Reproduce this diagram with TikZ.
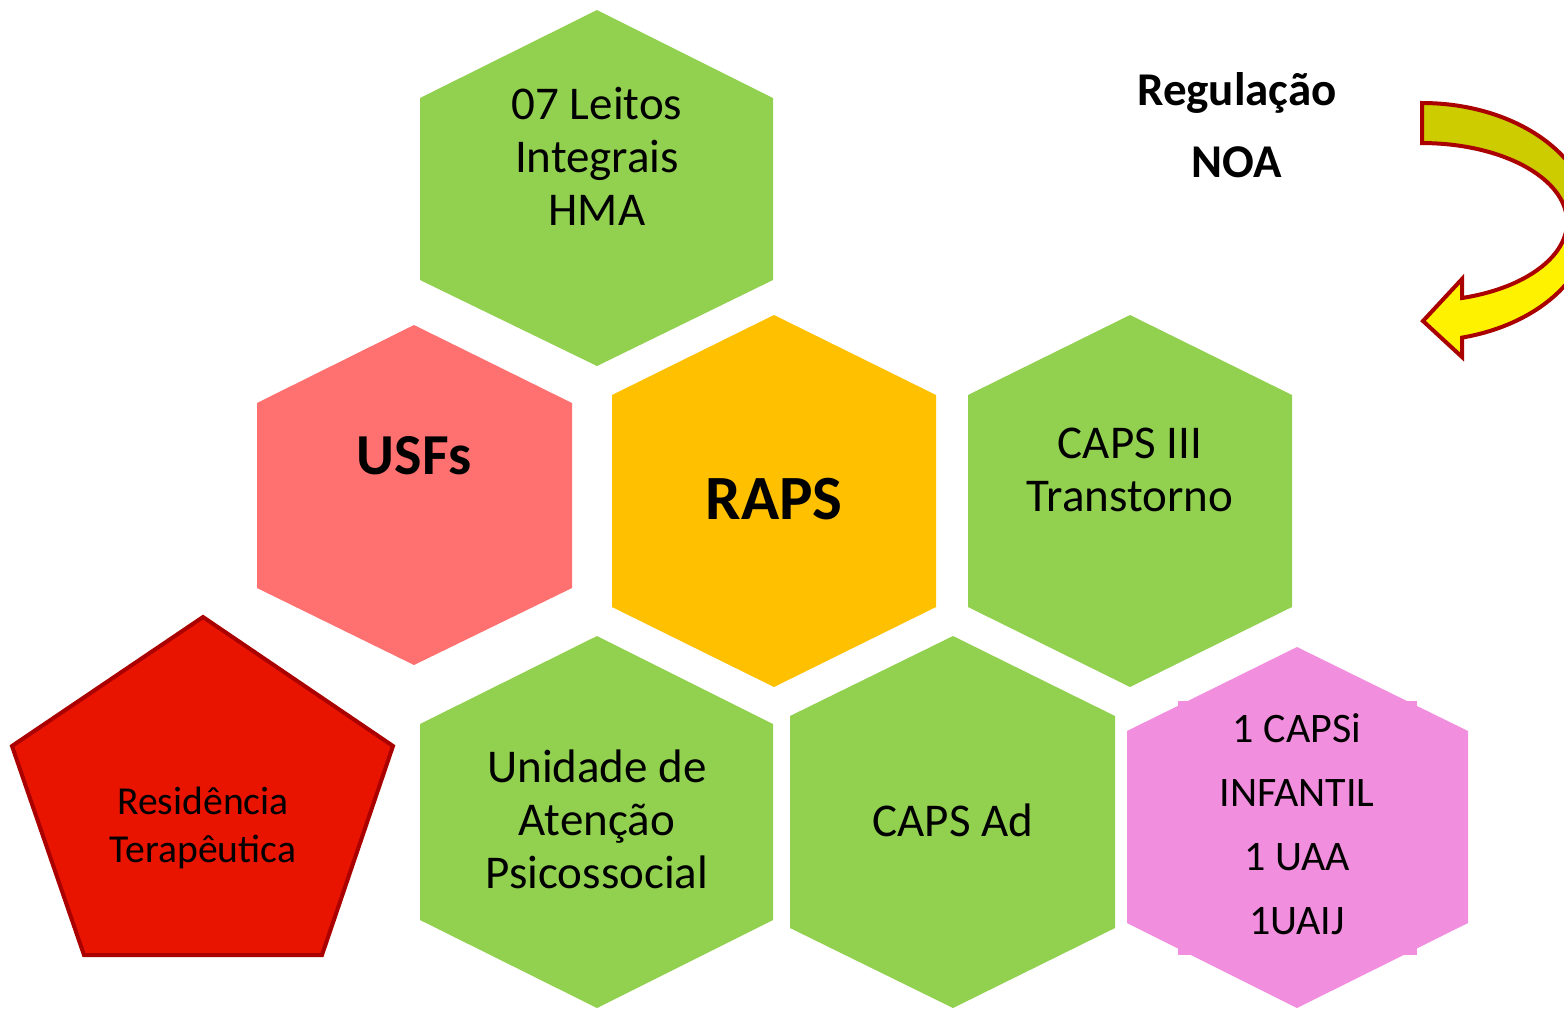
\documentclass[tikz,border=0pt]{standalone}
\usepackage{fontspec}
\setmainfont{Carlito}
\definecolor{hexgreen}{HTML}{92D050}
\definecolor{hexsalmon}{HTML}{FF7070}
\definecolor{hexorange}{HTML}{FFC000}
\definecolor{hexpink}{HTML}{F28EDE}
\definecolor{pentred}{HTML}{E81400}
\definecolor{darkred}{HTML}{AA0000}
\definecolor{olive}{HTML}{CCCC00}

\begin{document}
\begin{tikzpicture}[x=0.5pt,y=-0.5pt,
  txt/.style={align=center,inner sep=0pt,font=\fontsize{23.5}{26.5}\selectfont},
  pinktxt/.style={align=center,inner sep=0pt,font=\fontsize{21}{32}\selectfont},
  boldtxt/.style={inner sep=0pt,font=\bfseries\fontsize{23.5}{28}\selectfont}]
\useasboundingbox (0,0) rectangle (1564,1008);
\clip (0,0) rectangle (1564,1008);
% hexagons
\fill[hexgreen] (597,10) -- (773,98) -- (773,280) -- (597,366) -- (420,280) -- (420,98) -- cycle;
\fill[hexsalmon] (414,325) -- (572,403) -- (572,588) -- (414,665) -- (257,588) -- (257,403) -- cycle;
\fill[hexorange] (774,315) -- (936,395) -- (936,607) -- (774,687) -- (612,607) -- (612,395) -- cycle;
\fill[hexgreen] (1130,315) -- (1292,395) -- (1292,607) -- (1130,687) -- (968,607) -- (968,395) -- cycle;
\fill[hexgreen] (597,636) -- (773,724) -- (773,920) -- (597,1008) -- (420,920) -- (420,724) -- cycle;
\fill[hexgreen] (953,636) -- (1115,716) -- (1115,928) -- (953,1008) -- (790,928) -- (790,716) -- cycle;
\fill[hexpink] (1178,701) rectangle (1417,955);
\fill[hexpink] (1297,647) -- (1468,731) -- (1468,923) -- (1297,1008) -- (1127,923) -- (1127,731) -- cycle;
% pentagon
\filldraw[fill=pentred,draw=darkred,line width=2pt] (203,617) -- (393,746) -- (322,955) -- (84,955) -- (12,746) -- cycle;
% curved arrow
\fill[yellow] (1422,103) arc[start angle=-90,end angle=76.3,x radius=169,y radius=119]
  -- (1462,357) -- (1423,321) -- (1462,279) -- (1462,298)
  arc[start angle=74,end angle=-90,x radius=145,y radius=79] -- cycle;
\begin{scope}
\clip (1400,90) rectangle (1600,222);
\fill[olive] (1422,103) arc[start angle=-90,end angle=0,x radius=169,y radius=119]
  -- (1567,222) arc[start angle=0,end angle=-90,x radius=145,y radius=79] -- cycle;
\end{scope}
\draw[darkred,line width=2pt] (1422,103) arc[start angle=-90,end angle=76.3,x radius=169,y radius=119]
  -- (1462,357) -- (1423,321) -- (1462,279) -- (1462,298)
  arc[start angle=74,end angle=-90,x radius=145,y radius=79] -- cycle;
% texts
\node[txt] (leitos) at (597,156) {07 Leitos\\Integrais\\HMA};
\node[inner sep=0pt,font=\bfseries\fontsize{29}{34}\selectfont] (usfs) at (414,456) {USFs};
\node[inner sep=0pt,font=\bfseries\fontsize{31.5}{36}\selectfont] (raps) at (774,499) {RAPS};
\node[txt] (caps3) at (1130,470) {CAPS III\\Transtorno};
\node[txt] (unidade) at (597,819) {Unidade de\\Atenção\\Psicossocial};
\node[txt] (capsad) at (953,820) {CAPS Ad};
\node[pinktxt] (capsi) at (1297,824) {1 CAPSi\\INFANTIL\\1 UAA\\1UAIJ};
\node[align=center,inner sep=0pt,font=\fontsize{19.8}{24}\selectfont] (residencia) at (203,828) {Residência\\Terapêutica};
\node[boldtxt,anchor=base] (regulacao) at (1237,105) {Regulação};
\node[boldtxt,anchor=base] (noa) at (1237,177) {NOA};
\end{tikzpicture}
\end{document}
